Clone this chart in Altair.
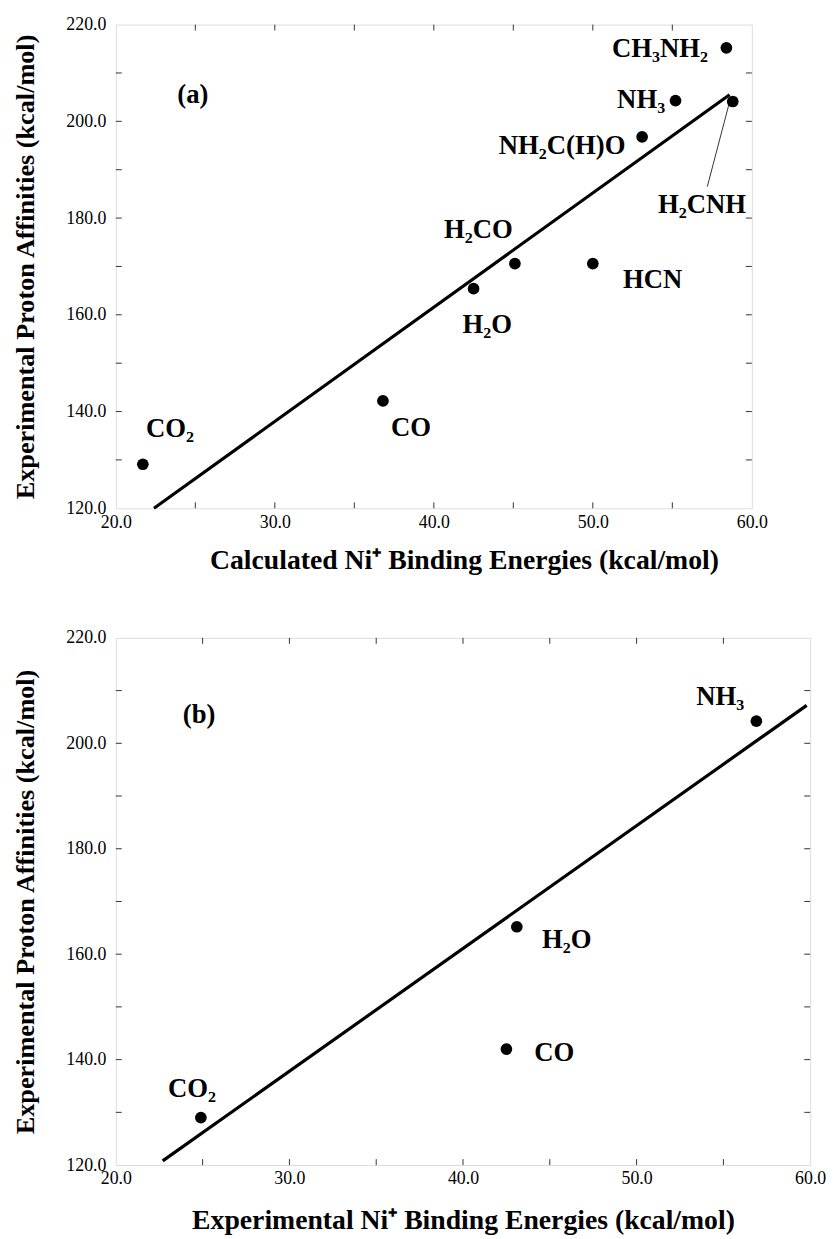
import altair as alt
import pandas as pd

# ---------------- Panel (a) data ----------------
a_names = ["CO₂", "CO", "H₂O", "H₂CO", "HCN", "NH₂C(H)O", "NH₃", "CH₃NH₂", "H₂CNH"]
a_x = [21.7, 36.8, 42.5, 45.1, 50.0, 53.1, 55.2, 58.4, 58.8]
a_y = [129.1, 142.2, 165.4, 170.6, 170.6, 196.8, 204.3, 215.2, 204.1]
# label anchor positions (data units) and alignment
a_lab_x = [21.9, 37.3, 41.8, 42.8, 51.9, 52.05, 54.55, 57.25, 54.1]
a_lab_y = [136.4, 136.6, 157.8, 177.5, 167.2, 194.8, 204.3, 215.0, 182.6]
a_lab_align = ["left", "left", "left", "center", "left", "right", "right", "right", "left"]
a_fit_x = [22.4, 58.6]
a_fit_y = [120.0, 205.5]
a_leader = [58.55, 203.4, 57.2, 186.5]  # x, y, x2, y2
a_tag = "(a)"
a_tag_pos = [24.85, 205.5]
a_xtitle = "Calculated Ni⁺ Binding Energies (kcal/mol)"

# ---------------- Panel (b) data ----------------
b_names = ["CO₂", "CO", "H₂O", "NH₃"]
b_x = [24.9, 42.5, 43.1, 56.9]
b_y = [129.0, 142.0, 165.2, 204.2]
b_lab_x = [23.0, 44.1, 44.55, 56.2]
b_lab_y = [134.4, 141.2, 162.6, 208.7]
b_lab_align = ["left", "left", "left", "right"]
b_fit_x = [22.7, 59.8]
b_fit_y = [120.8, 207.2]
b_tag = "(b)"
b_tag_pos = [24.8, 205.3]
b_xtitle = "Experimental Ni⁺ Binding Energies (kcal/mol)"

ytitle = "Experimental Proton Affinities (kcal/mol)"
x_label_vals = [20, 30, 40, 50, 60]
y_label_vals = [120, 140, 160, 180, 200, 220]
x_tick_vals = [25, 30, 35, 40, 45, 50, 55]
y_tick_vals = [130, 140, 150, 160, 170, 180, 190, 200, 210]

FONT = "Liberation Serif"
TS = 27  # annotation font size


def xenc(title, tpad, tx):
    extra = {} if tx is None else {"titleX": tx, "titleAlign": "center"}
    return alt.X("x", type="quantitative",
                 scale=alt.Scale(domain=[20, 60], nice=False, zero=False),
                 axis=alt.Axis(values=x_label_vals, format=".1f", title=title,
                               ticks=False, domain=False, grid=False,
                               labelFont=FONT, labelFontSize=18, labelColor="black",
                               labelPadding=5, labelFlush=False, labelOverlap=False,
                               titleFont=FONT, titleFontSize=28, titleFontWeight="bold",
                               titleColor="black", titlePadding=tpad, titleLimit=2000,
                               **extra))


def yenc():
    return alt.Y("y", type="quantitative",
                 scale=alt.Scale(domain=[120, 220], nice=False, zero=False),
                 axis=alt.Axis(values=y_label_vals, format=".1f", title=ytitle,
                               ticks=False, domain=False, grid=False,
                               labelFont=FONT, labelFontSize=18, labelColor="black",
                               labelPadding=10, labelFlush=False, labelOverlap=False,
                               titleFont=FONT, titleFontSize=26.5, titleFontWeight="bold",
                               titleColor="black", titlePadding=27, titleLimit=2000))


def panel(names, xs, ys, lx, ly, al, fx, fy, tag, tagpos, xtitle, tpad, tx, W, H, leader=None):
    pts = pd.DataFrame({"x": xs, "y": ys})
    labs = pd.DataFrame({"x": lx, "y": ly, "t": names, "al": al})
    fit = pd.DataFrame({"x": fx, "y": fy})
    tagdf = pd.DataFrame({"x": [tagpos[0]], "y": [tagpos[1]], "t": [tag]})
    xt = pd.DataFrame({"x": x_tick_vals})
    yt = pd.DataFrame({"y": y_tick_vals})
    X = lambda: xenc(xtitle, tpad, tx)

    layers = []
    layers.append(alt.Chart(fit).mark_line(color="black", strokeWidth=3.2)
                  .encode(x=X(), y=yenc()))
    layers.append(alt.Chart(pts).mark_circle(color="black", opacity=1, size=140)
                  .encode(x=X(), y=yenc()))
    if leader is not None:
        ld = pd.DataFrame({"x": [leader[0]], "y": [leader[1]], "x2": [leader[2]], "y2": [leader[3]]})
        layers.append(alt.Chart(ld).mark_rule(color="black", strokeWidth=0.8)
                      .encode(x=X(), y=yenc(), x2="x2", y2="y2"))
    for a in ["left", "center", "right"]:
        sub = labs[labs["al"] == a]
        if len(sub) == 0:
            continue
        layers.append(alt.Chart(sub).mark_text(font=FONT, fontSize=TS, fontWeight="bold",
                                               align=a, baseline="middle", color="black")
                      .encode(x=X(), y=yenc(), text="t:N"))
    layers.append(alt.Chart(tagdf).mark_text(font=FONT, fontSize=TS, fontWeight="bold",
                                             align="center", baseline="middle", color="black")
                  .encode(x=X(), y=yenc(), text="t:N"))
    tc = "#333333"
    layers.append(alt.Chart(xt).mark_rule(color=tc, strokeWidth=1)
                  .encode(x=X(), y=alt.value(0), y2=alt.value(6)))
    layers.append(alt.Chart(xt).mark_rule(color=tc, strokeWidth=1)
                  .encode(x=X(), y=alt.value(H), y2=alt.value(H - 6)))
    layers.append(alt.Chart(yt).mark_rule(color=tc, strokeWidth=1)
                  .encode(y=yenc(), x=alt.value(0), x2=alt.value(6)))
    layers.append(alt.Chart(yt).mark_rule(color=tc, strokeWidth=1)
                  .encode(y=yenc(), x=alt.value(W), x2=alt.value(W - 6)))
    return alt.layer(*layers).properties(width=W, height=H)


pa = panel(a_names, a_x, a_y, a_lab_x, a_lab_y, a_lab_align, a_fit_x, a_fit_y,
           a_tag, a_tag_pos, a_xtitle, 16, 352, 643, 489, leader=a_leader)
pb = panel(b_names, b_x, b_y, b_lab_x, b_lab_y, b_lab_align, b_fit_x, b_fit_y,
           b_tag, b_tag_pos, b_xtitle, 19, None, 702, 533)

chart = (alt.vconcat(pa, pb, spacing=53)
         .properties(padding={"left": 3, "top": 0, "right": 0, "bottom": 0})
         .configure_view(stroke="#333333", strokeWidth=1.2)
         .configure(background="white"))

chart.save("out.html", embed_options={"renderer": "svg", "actions": False})
